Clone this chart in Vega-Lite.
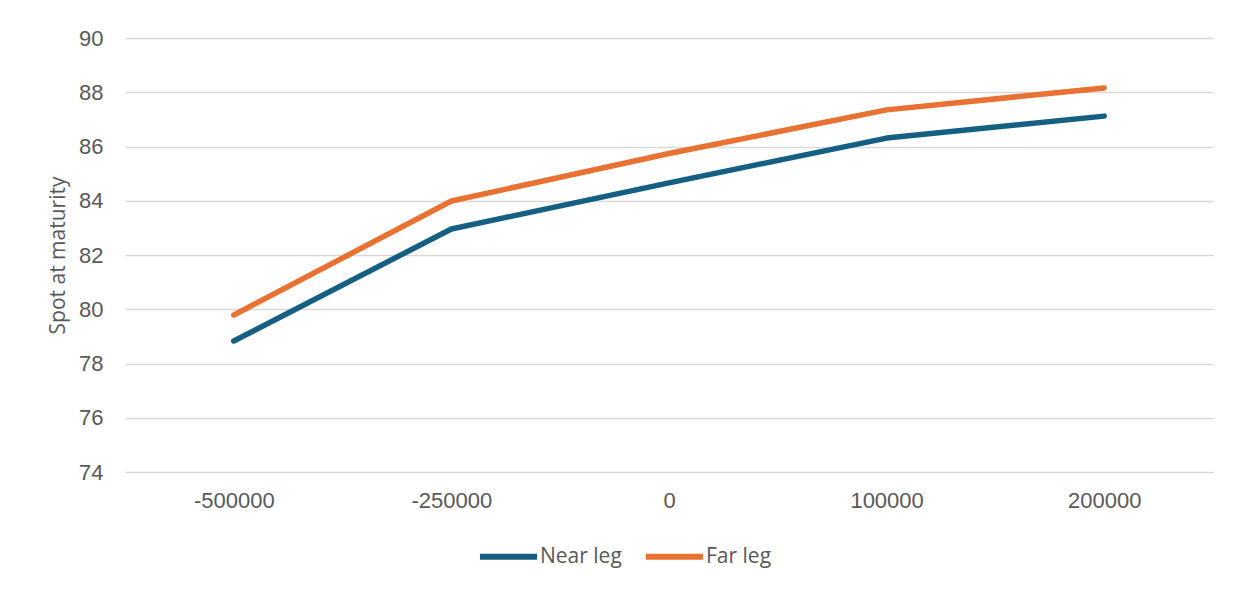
{
  "$schema": "https://vega.github.io/schema/vega-lite/v6.json",
  "autosize": {"type": "none"},
  "width": 1088,
  "height": 434,
  "padding": {"left": 125, "top": 38, "right": 26, "bottom": 117},
  "background": "white",
  "config": {
    "view": {"stroke": null},
    "font": "Liberation Sans"
  },
  "data": {
    "values": [
      {"x": "-500000", "series": "Near leg", "spot": 78.83},
      {"x": "-250000", "series": "Near leg", "spot": 82.96},
      {"x": "0", "series": "Near leg", "spot": 84.66},
      {"x": "100000", "series": "Near leg", "spot": 86.31},
      {"x": "200000", "series": "Near leg", "spot": 87.12},
      {"x": "-500000", "series": "Far leg", "spot": 79.79},
      {"x": "-250000", "series": "Far leg", "spot": 83.99},
      {"x": "0", "series": "Far leg", "spot": 85.74},
      {"x": "100000", "series": "Far leg", "spot": 87.35},
      {"x": "200000", "series": "Far leg", "spot": 88.16}
    ]
  },
  "mark": {"type": "line", "strokeWidth": 5.5, "strokeCap": "round", "strokeJoin": "round"},
  "encoding": {
    "x": {
      "field": "x",
      "type": "ordinal",
      "sort": ["-500000", "-250000", "0", "100000", "200000"],
      "scale": {"type": "point", "padding": 0.5},
      "axis": {
        "title": null,
        "labelAngle": 0,
        "labelFontSize": 22,
        "labelColor": "#595959",
        "labelPadding": 18,
        "ticks": false,
        "domain": false,
        "grid": false
      }
    },
    "y": {
      "field": "spot",
      "type": "quantitative",
      "scale": {"domain": [74, 90], "nice": false, "zero": false},
      "axis": {
        "title": "Spot at maturity",
        "titleFont": "Open Sans",
        "titleFontSize": 21,
        "titleFontWeight": "normal",
        "titleColor": "#595959",
        "titlePadding": 10,
        "values": [74, 76, 78, 80, 82, 84, 86, 88, 90],
        "labelFontSize": 22,
        "labelColor": "#595959",
        "labelPadding": 22,
        "ticks": false,
        "domain": false,
        "grid": true,
        "gridColor": "#d9d9d9",
        "gridWidth": 1.5
      }
    },
    "color": {
      "field": "series",
      "type": "nominal",
      "scale": {"domain": ["Near leg", "Far leg"], "range": ["#156082", "#E97132"]},
      "legend": {
        "title": null,
        "orient": "none",
        "legendX": 352,
        "legendY": 487,
        "direction": "horizontal",
        "symbolType": "stroke",
        "symbolSize": 3249,
        "symbolStrokeWidth": 6,
        "labelFontSize": 21,
        "labelFont": "Open Sans",
        "labelColor": "#595959",
        "labelOffset": 0,
        "columnPadding": 12
      }
    }
  }
}
